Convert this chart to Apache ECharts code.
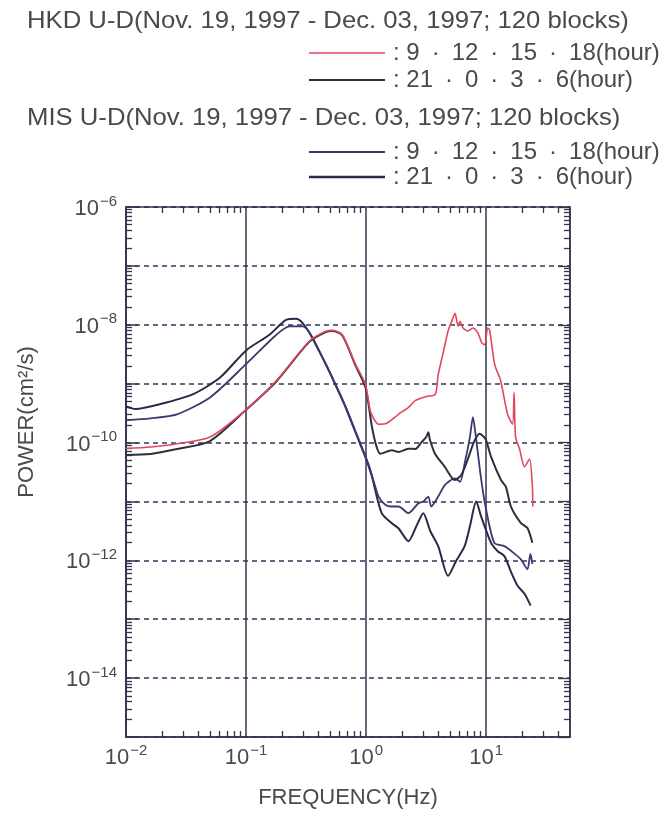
<!DOCTYPE html>
<html>
<head>
<meta charset="utf-8">
<script src="https://cdn.jsdelivr.net/npm/echarts@6/dist/echarts.min.js"></script>
<style>
html,body{margin:0;padding:0;background:#fff;}
#chart{width:663px;height:814px;}
</style>
</head>
<body>
<div id="chart"></div>
<script>
// ---- Data (frequency in Hz, power in cm^2/s) ----
const hkdDayFreq = [0.01,0.016,0.0266,0.0501,0.0989,0.178,0.336,0.461,0.524,0.634,0.817,0.989,1.094,1.273,1.483,1.862,2.254,2.58,3.17,3.77,3.99,4.39,4.82,5.21,5.51,5.84,6.07,6.42,7.06,7.76,8.54,9.21,9.75,10.3,10.7,11.8,13.2,15.1,16.6,17.1,17.6,19.0,20.9,23.0,24.3,24.5];
const hkdDayPower = [7.92e-11,8.4e-11,9.55e-11,1.24e-10,3.56e-10,1.11e-9,5.26e-9,7.74e-9,8.05e-9,6.79e-9,2.12e-9,9.77e-10,3.27e-10,2.05e-10,2.13e-10,3.02e-10,3.96e-10,5.19e-10,6.07e-10,6.56e-10,1.42e-9,3.34e-9,7.83e-9,1.2e-8,1.57e-8,9.51e-9,1.15e-8,8.8e-9,7.83e-9,8.8e-9,7.25e-9,4.92e-9,4.56e-9,8.8e-9,8.15e-9,2.1e-9,1.13e-9,3.02e-10,2.05e-10,7.08e-10,1.24e-10,7.78e-11,3.87e-11,5.27e-11,1.78e-11,8.2e-12];

const hkdNightFreq = [0.01,0.016,0.0266,0.0501,0.0989,0.178,0.336,0.461,0.524,0.634,0.817,0.989,1.121,1.225,1.315,1.64,1.862,2.254,2.58,2.9,3.17,3.3,3.41,3.75,4.53,5.48,6.21,7.06,7.91,8.82,9.89,11.0,13.3,14.6,16.1,19.5,22.1,24.3];
const hkdNightPower = [6.17e-11,6.4e-11,7.78e-11,1.06e-10,3.52e-10,1.08e-9,5.12e-9,7.53e-9,7.83e-9,6.58e-9,2.02e-9,8.59e-10,1.82e-10,8.4e-11,6.47e-11,7.4e-11,6.92e-11,7.87e-11,7.78e-11,1.02e-10,1.24e-10,1.5e-10,1.1e-10,6.47e-11,3.87e-11,2.31e-11,2.81e-11,5.27e-11,1.02e-10,1.41e-10,1.15e-10,5.7e-11,2.31e-11,1.78e-11,8.2e-12,4.29e-12,3.54e-12,1.98e-12];

const misDayFreq = [0.01,0.016,0.0266,0.0501,0.0989,0.178,0.23,0.296,0.336,0.377,0.465,0.562,0.68,0.822,0.957,1.052,1.18,1.273,1.446,1.63,1.862,2.254,2.727,2.998,3.3,3.49,3.99,4.53,5.48,6.06,6.625,7.33,7.76,8.22,9.04,9.89,11.7,14.2,16.6,19.5,22.1,23.4,24.3];
const misDayPower = [2.39e-10,2.58e-10,3.02e-10,5.83e-10,2.1e-9,6.71e-9,9.4e-9,9.4e-9,7.53e-9,4.73e-9,2.1e-9,9.29e-10,3.96e-10,1.5e-10,6.92e-11,4.18e-11,1.93e-11,1.21e-11,8.77e-12,8.2e-12,8.2e-12,6.32e-12,9.33e-12,9.95e-12,1.21e-11,8.2e-12,1.21e-11,1.9e-11,2.46e-11,2.16e-11,4.4e-11,1.24e-10,2.69e-10,1.24e-10,2.62e-11,8.2e-12,1.98e-12,1.74e-12,1.38e-12,1.04e-12,7.06e-13,1.28e-12,8.67e-13];

const misNightFreq = [0.01,0.012,0.0194,0.0363,0.0607,0.1007,0.157,0.216,0.261,0.296,0.358,0.447,0.541,0.654,0.791,0.921,1.0,1.114,1.349,1.63,1.862,2.254,2.624,2.998,3.425,3.99,4.823,5.62,6.625,7.33,8.27,9.09,11.0,12.5,14.2,16.0,18.3,20.9,23.5];
const misNightPower = [4.11e-10,3.71e-10,4.5e-10,6.64e-10,1.27e-9,3.71e-9,6.79e-9,1.21e-8,1.26e-8,1.07e-8,5.97e-9,2.45e-9,1.08e-9,4.62e-10,1.75e-10,8.07e-11,5.27e-11,2.73e-11,6.32e-12,4.29e-12,3.5e-12,2.11e-12,3.78e-12,6.32e-12,3.15e-12,1.74e-12,5.45e-13,9.73e-13,1.74e-12,3.78e-12,9.95e-12,5.57e-12,1.98e-12,1.43e-12,1.18e-12,6.6e-13,3.69e-13,2.71e-13,1.7e-13];

// ---- Axis tick labels ----
const xLabelDecades = [0.01, 0.1, 1, 10];
const yLabelDecades = [1e-14, 1e-12, 1e-10, 1e-8, 1e-6];
const xMin = 0.01, xMax = 50;
const yMin = 1e-15, yMax = 1e-6;

// ---- Legend texts ----
const hkdTitle = 'HKD U-D(Nov. 19, 1997 - Dec. 03, 1997; 120 blocks)';
const misTitle = 'MIS U-D(Nov. 19, 1997 - Dec. 03, 1997; 120 blocks)';
const dayText = ': 9\u2002·\u200212\u2002·\u200215\u2002·\u200218(hour)';
const nightText = ': 21\u2002·\u20020\u2002·\u20023\u2002·\u20026(hour)';

function pairs(fs, ps){ return fs.map((f,i)=>[f, ps[i]]); }
function minors(lo, hi){
  const out=[];
  for(let d=Math.floor(Math.log10(lo)); d<=Math.ceil(Math.log10(hi)); d++){
    for(let k=2;k<=9;k++){ const v=k*Math.pow(10,d); if(v>lo && v<hi) out.push(v); }
  }
  return out;
}
function decades(lo, hi){
  const out=[];
  for(let d=Math.round(Math.log10(lo)); d<=Math.floor(Math.log10(hi)); d++) out.push(Math.pow(10,d));
  return out;
}
function isIn(v, list){ return list.some(t=>Math.abs(Math.log10(v)-Math.log10(t))<1e-6); }
function supLabel(v){ const e=Math.round(Math.log10(v)); return '{b|10}{s|' + (e<0?'\u2212'+(-e):e) + '}'; }

const FONT = "'Liberation Sans', Arial, Helvetica, sans-serif";
const TXT = '#4a4a4a';
const AX = '#34344c';
const richLbl = {
  b:{fontSize:22, fontFamily:FONT, color:TXT, lineHeight:26, verticalAlign:'bottom'},
  s:{fontSize:15, fontFamily:FONT, color:TXT, lineHeight:26, verticalAlign:'top', padding:[0,0,0,1]}
};

const chart = echarts.init(document.getElementById('chart'), null, {renderer:'canvas'});
const gridPos = {left:126, right:93, top:207, bottom:74.5};

function tickAxis(kind, pos, values, len){
  const isX = kind==='x';
  return {
    type:'log', logBase:10, position:pos,
    min: isX?xMin:yMin, max: isX?xMax:yMax,
    axisLine:{show:false}, axisLabel:{show:false}, splitLine:{show:false},
    axisTick:{show:true, inside:true, length:len, customValues:values, lineStyle:{color:AX, width:1.3}},
    silent:true
  };
}

const lineCommon = {type:'line', showSymbol:false, smooth:0.25};

const option = {
  backgroundColor:'#ffffff',
  animation:false,
  grid:Object.assign({show:true, borderColor:AX, borderWidth:1.5, containLabel:false}, gridPos),
  xAxis:[
    {
      type:'log', logBase:10, min:xMin, max:xMax, position:'bottom',
      name:'FREQUENCY(Hz)', nameLocation:'middle', nameGap:50,
      nameTextStyle:{fontSize:22, fontFamily:FONT, color:TXT},
      axisLine:{show:true, lineStyle:{color:AX, width:1.5}},
      axisTick:{show:false},
      axisLabel:{margin:6, formatter:(v)=> isIn(v, xLabelDecades) ? supLabel(v) : '', rich:richLbl},
      splitLine:{show:true, lineStyle:{color:AX, width:1.5, type:'solid'}}
    },
    tickAxis('x','bottom', minors(xMin,xMax), 6),
    tickAxis('x','top', minors(xMin,xMax), 6)
  ],
  yAxis:[
    {
      type:'log', logBase:10, min:yMin, max:yMax, position:'left',
      axisLine:{show:true, lineStyle:{color:AX, width:1.5}},
      axisTick:{show:true, inside:true, length:12, lineStyle:{color:AX, width:1.5}},
      axisLabel:{margin:9, formatter:(v)=> isIn(v, yLabelDecades) ? supLabel(v) : '', rich:richLbl},
      splitLine:{show:true, lineStyle:{color:'#35355e', width:1.5, type:[5,4]}}
    },
    tickAxis('y','left', minors(yMin,yMax), 6),
    tickAxis('y','right', minors(yMin,yMax), 6),
    tickAxis('y','right', decades(yMin,yMax), 12)
  ],
  series:[
    Object.assign({name:'MIS night', data:pairs(misNightFreq, misNightPower),
     lineStyle:{color:'#2a2a48', width:2}, z:3}, lineCommon),
    Object.assign({name:'MIS day', data:pairs(misDayFreq, misDayPower),
     lineStyle:{color:'#383a70', width:1.8}, z:3}, lineCommon),
    Object.assign({name:'HKD night', data:pairs(hkdNightFreq, hkdNightPower),
     lineStyle:{color:'#2e2e3c', width:2}, z:4}, lineCommon),
    Object.assign({name:'HKD day', data:pairs(hkdDayFreq, hkdDayPower),
     lineStyle:{color:'#e0485e', width:1.6}, z:5}, lineCommon)
  ],
  graphic:[
    {type:'text', x:27, y:21, scaleX:1.07, style:{text:hkdTitle, font:'24px '+FONT, fill:TXT, verticalAlign:'middle'}},
    {type:'line', shape:{x1:309,y1:53,x2:385,y2:53}, style:{stroke:'#e0485e', lineWidth:1.6}},
    {type:'text', x:393, y:53, style:{text:dayText, font:'24px '+FONT, fill:TXT, verticalAlign:'middle'}},
    {type:'line', shape:{x1:309,y1:80,x2:385,y2:80}, style:{stroke:'#2e2e3c', lineWidth:2}},
    {type:'text', x:393, y:80, style:{text:nightText, font:'24px '+FONT, fill:TXT, verticalAlign:'middle'}},
    {type:'text', x:27, y:118, scaleX:1.07, style:{text:misTitle, font:'24px '+FONT, fill:TXT, verticalAlign:'middle'}},
    {type:'line', shape:{x1:309,y1:152,x2:385,y2:152}, style:{stroke:'#383a70', lineWidth:1.8}},
    {type:'text', x:393, y:152, style:{text:dayText, font:'24px '+FONT, fill:TXT, verticalAlign:'middle'}},
    {type:'line', shape:{x1:309,y1:177,x2:385,y2:177}, style:{stroke:'#2a2a48', lineWidth:2.6}},
    {type:'text', x:393, y:177, style:{text:nightText, font:'24px '+FONT, fill:TXT, verticalAlign:'middle'}},
    {type:'text', x:27, y:422, rotation:Math.PI/2,
     style:{text:'POWER(cm²/s)', font:'22px '+FONT, fill:TXT, align:'center', verticalAlign:'middle'}}
  ]
};
chart.setOption(option);
</script>
</body>
</html>
